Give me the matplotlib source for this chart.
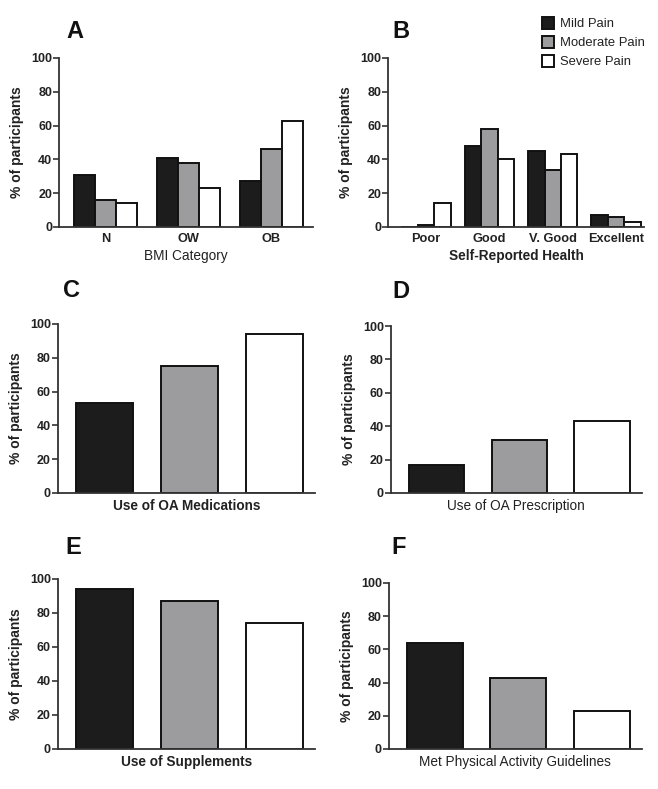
import numpy as np
import matplotlib
matplotlib.use('Agg')
import matplotlib.pyplot as plt
from matplotlib.patches import Patch

plt.rcParams['font.family'] = ['Liberation Sans', 'DejaVu Sans']

# series names and colours
series = ['Mild Pain', 'Moderate Pain', 'Severe Pain']
colors = ['#1c1c1c', '#9c9c9e', '#ffffff']

# A: BMI category
bmi_cats = ['N', 'OW', 'OB']
bmi_mild = [31, 41, 27]
bmi_mod = [16, 38, 46]
bmi_sev = [14, 23, 63]

# B: self-reported health
health_cats = ['Poor', 'Good', 'V. Good', 'Excellent']
health_mild = [0, 48, 45, 7]
health_mod = [1, 58, 34, 6]
health_sev = [14, 40, 43, 3]

# C-F: single measures (mild, moderate, severe)
oa_meds = [53, 75, 94]
oa_presc = [17, 32, 43]
supplements = [94, 87, 74]
phys_act = [64, 43, 23]

fig = plt.figure(figsize=(6.58, 7.89), dpi=100)

text_col = '#222222'


def style_axes(ax):
    for s in ['top', 'right']:
        ax.spines[s].set_visible(False)
    for s in ['left', 'bottom']:
        ax.spines[s].set_linewidth(1.3)
        ax.spines[s].set_color('#333333')
    ax.set_ylim(0, 100)
    ax.set_yticks(range(0, 101, 20))
    ax.tick_params(axis='y', length=4, width=1.2, color='#333333', labelsize=9, pad=1)
    ax.tick_params(axis='x', length=0, labelsize=9.2, pad=4)
    for lab in ax.get_yticklabels() + ax.get_xticklabels():
        lab.set_fontweight('bold')
        lab.set_color(text_col)
    ax.set_ylabel('% of participants', fontsize=10, fontweight='bold', color=text_col, labelpad=5)


def grouped(ax, cats, groups, width):
    x = np.arange(len(cats))
    offs = [-width, 0, width]
    for vals, c, o in zip(groups, colors, offs):
        ax.bar(x + o, vals, width, color=c, edgecolor='#111111', linewidth=1.4)
    ax.set_xticks(x)
    ax.set_xticklabels(cats)


def single(ax, vals, label, weight):
    x = np.arange(3)
    ax.bar(x, vals, 0.67, color=colors, edgecolor='#111111', linewidth=1.4)
    ax.set_xticks([])
    ax.set_xlim(-0.55, 2.48)
    ax.set_xlabel(label, fontsize=9.8, fontweight=weight, color=text_col, labelpad=4)


# A
axA = fig.add_axes([0.0897, 0.7123, 0.386, 0.2142])
grouped(axA, bmi_cats, [bmi_mild, bmi_mod, bmi_sev], 0.25)
axA.set_xlim(-0.56, 2.5)
axA.set_xlabel('BMI Category', fontsize=9.8, color=text_col, labelpad=3)
style_axes(axA)

# B
axB = fig.add_axes([0.5897, 0.7123, 0.389, 0.2142])
grouped(axB, health_cats, [health_mild, health_mod, health_sev], 0.26)
axB.set_xlim(-0.6, 3.44)
axB.set_xlabel('Self-Reported Health', fontsize=9.8, fontweight='bold', color=text_col, labelpad=3)
style_axes(axB)
handles = [Patch(facecolor=c, edgecolor='#111111', linewidth=1.4) for c in colors]
axB.legend(handles, series, loc='upper left', bbox_to_anchor=(0.555, 1.31), frameon=False,
           fontsize=9.4, handlelength=0.95, handleheight=0.95, handletextpad=0.45,
           labelspacing=0.45, labelcolor=text_col)

# C
axC = fig.add_axes([0.088, 0.3752, 0.3906, 0.2142])
single(axC, oa_meds, 'Use of OA Medications', 'bold')
style_axes(axC)

# D
axD = fig.add_axes([0.594, 0.3752, 0.3815, 0.2116])
single(axD, oa_presc, 'Use of OA Prescription', 'normal')
style_axes(axD)

# E
axE = fig.add_axes([0.088, 0.0507, 0.3906, 0.2155])
single(axE, supplements, 'Use of Supplements', 'bold')
style_axes(axE)

# F
axF = fig.add_axes([0.591, 0.0507, 0.3845, 0.2104])
single(axF, phys_act, 'Met Physical Activity Guidelines', 'normal')
style_axes(axF)

# panel letters
letters = [('A', 66, 31), ('B', 392, 31), ('C', 63, 291), ('D', 392, 292),
           ('E', 65, 548), ('F', 391, 548)]
for t, px, py in letters:
    fig.text(px / 658, 1 - py / 789, t, fontsize=17, fontweight='bold',
             color='#111111', ha='left', va='center')

fig.savefig('out.png', dpi=100)
